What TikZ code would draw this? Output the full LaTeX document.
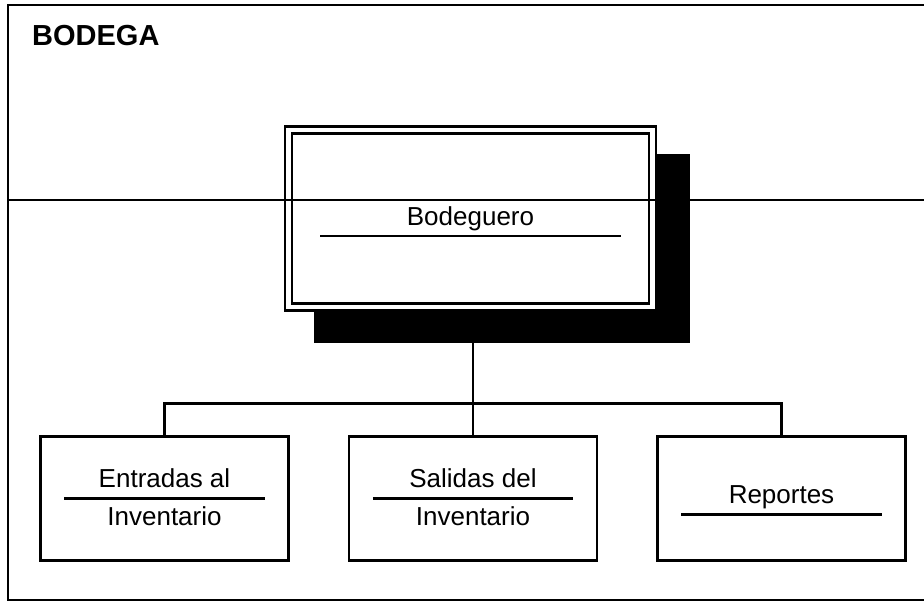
\documentclass[tikz,border=0pt]{standalone}
\usepackage{fontspec}
\setmainfont{Liberation Sans}
\usepackage{tikz}
\usetikzlibrary{positioning}
\tikzstyle{frm}=[line width=2.5pt]
\tikzstyle{lnk}=[line width=2.5pt]
\tikzstyle{bx}=[draw, rectangle, line width=2.5pt, minimum width=248pt, minimum height=124pt, inner sep=0pt]
\tikzstyle{bigbx}=[draw, rectangle, double, double distance=4.5pt, line width=2.5pt, fill=white, outer sep=0pt, minimum width=364pt, minimum height=177pt]
\tikzstyle{shd}=[rectangle, fill=black, inner sep=0pt, outer sep=0pt, minimum width=376pt, minimum height=189pt]
\tikzstyle{nm}=[font=\fontsize{26}{30}\selectfont, text height=19pt, text depth=0pt, inner xsep=0pt, inner ysep=10.5pt, minimum width=200pt]
\tikzstyle{tl}=[font=\fontsize{26}{30}\selectfont, text height=19pt, text depth=0pt, inner sep=0pt]

\begin{document}
\begin{tikzpicture}[x=1pt, y=-1pt]
  \useasboundingbox (0,0) rectangle (924,603);
%
  \draw[frm] (924,5) -- (8,5) -- (8,600) -- (924,600);
  \node[anchor=base west, inner sep=0pt, font=\fontsize{29}{34}\selectfont\bfseries] (ttl) at (32,45) {BODEGA};
%
  \node[shd] (shd) at (502,248.5) {};
  \node[bigbx] (bod) at (470.5,218.5) {};
  \node[nm, anchor=south, minimum width=300pt] (bodn) at ([yshift=-17.5pt]bod.center) {Bodeguero};
  \draw[lnk] (bodn.south west) -- (bodn.south east);
%
  \draw[frm] (8,200) -- (924,200);
%
  \node[bx] (b2) at (473,498.5) {};
  \node[bx] (b1) [left = 58pt of b2] {};
  \node[bx] (b3) [right = 58pt of b2] {};
%
  \node[nm, anchor=south] (e1) at (b1.center) {Entradas al};
  \node[tl] (e2) [below = 7.5pt of e1] {Inventario};
  \draw[lnk] (e1.south west) -- (e1.south east);
%
  \node[nm, anchor=south] (s1) at (b2.center) {Salidas del};
  \node[tl] (s2) [below = 7.5pt of s1] {Inventario};
  \draw[lnk] (s1.south west) -- (s1.south east);
%
  \node[nm, anchor=south] (r1) at ([yshift=-16pt]b3.center) {Reportes};
  \draw[lnk] (r1.south west) -- (r1.south east);
%
  \coordinate[above = 32pt of b2.north] (bar);
  \draw[lnk] (shd.south -| b2.north) -- (b2.north);
  \draw[lnk] (b1.north) |- (bar) -| (b3.north);
\end{tikzpicture}
\end{document}
